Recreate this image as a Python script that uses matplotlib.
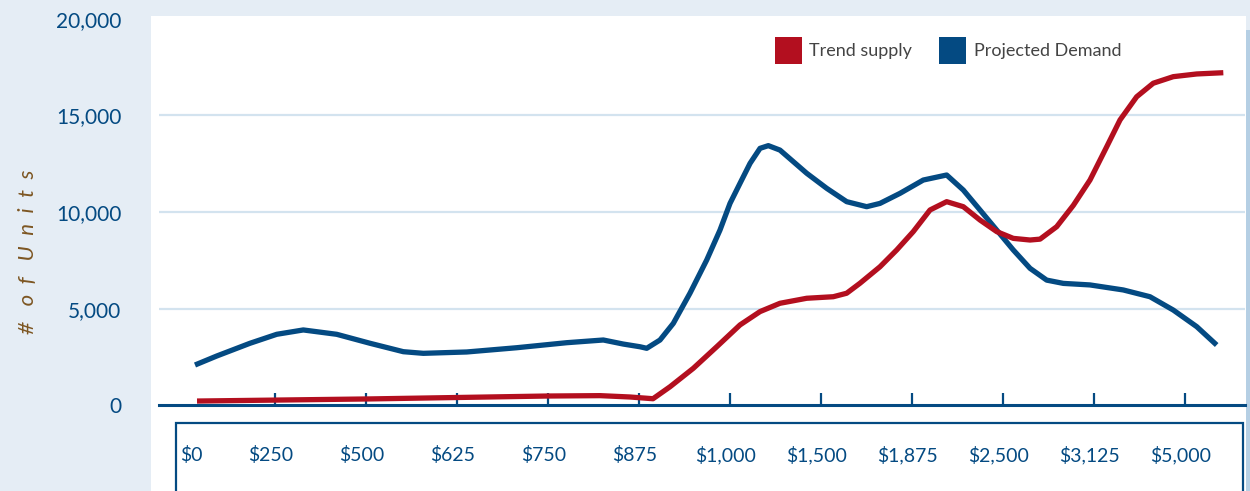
import numpy as np
import matplotlib
matplotlib.use('Agg')
import matplotlib.pyplot as plt
from matplotlib.patches import Rectangle, Patch
from matplotlib.ticker import FuncFormatter

plt.rcParams['font.family'] = ['Lato', 'DejaVu Sans']

# ---- data (x in category units)
price_labels = ['$0', '$250', '$500', '$625', '$750', '$875', '$1,000',
                '$1,500', '$1,875', '$2,500', '$3,125', '$5,000']

demand_x = [0.121, 0.359, 0.725, 1.019, 1.311, 1.678, 2.044, 2.410, 2.630, 3.107,
            3.656, 4.205, 4.608, 4.827, 5.011, 5.085, 5.231, 5.377, 5.560, 5.744,
            5.890, 6.000, 6.110, 6.220, 6.330, 6.421, 6.549, 6.696, 6.843, 7.063,
            7.282, 7.502, 7.648, 7.868, 8.124, 8.381, 8.564, 8.747, 8.931, 9.113,
            9.297, 9.480, 9.663, 9.956, 10.322, 10.615, 10.871, 11.129, 11.348]
demand_y = [2086, 2550, 3210, 3675, 3900, 3675, 3210, 2775, 2690, 2760,
            2980, 3240, 3380, 3170, 3030, 2950, 3380, 4240, 5800, 7520,
            9070, 10450, 11490, 12520, 13300, 13440, 13210, 12610, 12010, 11230,
            10540, 10280, 10450, 10970, 11660, 11920, 11140, 10110, 9070, 8040,
            7090, 6480, 6310, 6230, 5970, 5620, 4930, 4070, 3120]

supply_x = [0.143, 2.044, 3.989, 4.571, 4.901, 5.154, 5.341, 5.597, 5.854, 6.110,
            6.330, 6.549, 6.843, 7.135, 7.282, 7.429, 7.648, 7.832, 8.014, 8.198,
            8.381, 8.564, 8.747, 8.931, 9.113, 9.297, 9.407, 9.590, 9.773, 9.956,
            10.140, 10.286, 10.469, 10.651, 10.871, 11.129, 11.421]
supply_y = [220, 330, 480, 500, 430, 340, 960, 1915, 3030, 4160,
            4850, 5280, 5540, 5620, 5800, 6320, 7170, 8040, 8990, 10110,
            10540, 10280, 9590, 8990, 8640, 8555, 8600, 9245, 10350, 11660,
            13385, 14770, 15970, 16670, 17010, 17150, 17215]

RED = '#b30f1f'
BLUE = '#044a82'
W, H = 1250, 491

fig = plt.figure(figsize=(12.5, 4.91), dpi=100, facecolor='#e5edf5')

# white panel, right strip, x label box (behind the axes)
fig.patches.append(Rectangle((151/W, 0), (1246-151)/W, (H-16)/H, transform=fig.transFigure,
                             facecolor='white', edgecolor='none', zorder=-3))
fig.patches.append(Rectangle((1246/W, 0), 4/W, (H-30)/H, transform=fig.transFigure,
                             facecolor='#b5cfe4', edgecolor='none', zorder=-3))
fig.patches.append(Rectangle((176/W, -0.05), (1243-176)/W, (H-423)/H + 0.05,
                             transform=fig.transFigure, facecolor='white',
                             edgecolor=BLUE, lw=1.6, zorder=-2))

ax = fig.add_axes([159/W, (H-405.3)/H, (1245-159)/W, (405.3-16)/H])
ax.set_zorder(1)
ax.set_facecolor('none')
ax.set_xlim((159-184)/91, (1245-184)/91)
ax.set_ylim(0, 20150)

for g in [5000, 10000, 15000]:
    ax.axhline(g, color='#d3e3ef', lw=1.6, zorder=1)

ax.plot(demand_x, demand_y, color=BLUE, lw=3.8, solid_joinstyle='round',
        solid_capstyle='butt', zorder=3)
ax.plot(supply_x, supply_y, color=RED, lw=3.8, solid_joinstyle='round',
        solid_capstyle='butt', zorder=3)

for s in ['top', 'right', 'left']:
    ax.spines[s].set_visible(False)
ax.spines['bottom'].set_color(BLUE)
ax.spines['bottom'].set_linewidth(2.2)
ax.spines['bottom'].set_zorder(4)

ax.set_xticks(range(1, 12))
ax.tick_params(axis='x', direction='in', length=9, width=1.6, color=BLUE,
               labelbottom=False)
ax.set_yticks([0, 5000, 10000, 15000, 20000])
ax.yaxis.set_major_formatter(FuncFormatter(lambda v, p: f'{int(v):,}'))
ax.tick_params(axis='y', length=0, pad=27, labelsize=15, labelcolor=BLUE)

trans = ax.get_xaxis_transform()
label_y = -(455-405.3)/(405.3-16)
for i, lab in enumerate(price_labels):
    if i == 0:
        ax.text(-0.04, label_y, lab, transform=trans, ha='left', va='center',
                fontsize=14, color=BLUE, clip_on=False)
    else:
        ax.text(i - 0.05, label_y, lab, transform=trans, ha='center', va='center',
                fontsize=14, color=BLUE, clip_on=False)

fig.text(28/W, 1 - 252/H, '#   o  f   U  n  i  t  s', rotation=90, ha='center',
         va='center', fontsize=16, color='#7d5622', fontstyle='italic')

handles = [Patch(facecolor=RED, edgecolor='none', label='Trend supply'),
           Patch(facecolor=BLUE, edgecolor='none', label='Projected Demand')]
leg = ax.legend(handles=handles, ncol=2, frameon=False, loc='upper right',
                bbox_to_anchor=((1121-159)/(1245-159), 1 - (37-16)/(405.3-16)),
                fontsize=13, handlelength=1.5, handleheight=1.95, handletextpad=0.4,
                columnspacing=1.5, borderaxespad=0, borderpad=0)
for t in leg.get_texts():
    t.set_color('#444444')

fig.savefig('out.png', dpi=100, facecolor=fig.get_facecolor())
